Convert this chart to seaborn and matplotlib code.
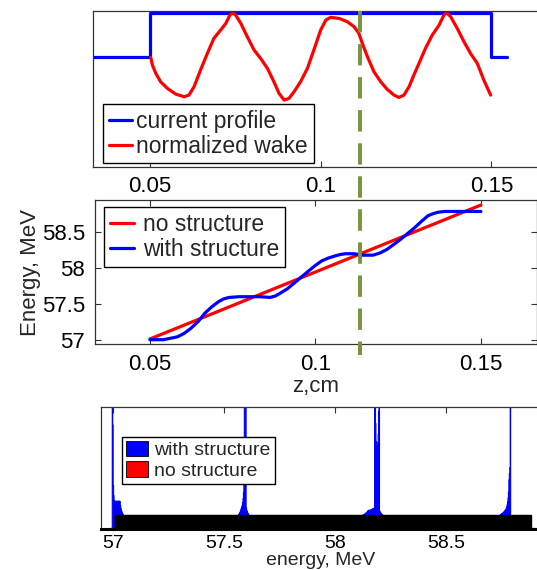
import numpy as np
import pandas as pd
import matplotlib
matplotlib.use("Agg")
import matplotlib.pyplot as plt
from matplotlib.lines import Line2D
from matplotlib.patches import Patch
import seaborn as sns

# ---- data -------------------------------------------------------------
# beam current profile (step) and normalized wake along z (cm)
current_z = [0.03, 0.05, 0.05, 0.15, 0.15, 0.1546]
current_val = [0, 0, 1, 1, 0, 0]

wake_z = [0.0502, 0.0507, 0.0517, 0.0531, 0.0551, 0.0575, 0.0600, 0.0614,
          0.0629, 0.0648, 0.0668, 0.0687, 0.0707, 0.0722, 0.0734, 0.0741,
          0.0751, 0.0766, 0.0785, 0.0805, 0.0824, 0.0844, 0.0863, 0.0878,
          0.0893, 0.0907, 0.0922, 0.0941, 0.0961, 0.0980, 0.1000, 0.1015,
          0.1029, 0.1054, 0.1078, 0.1098, 0.1112, 0.1122, 0.1137, 0.1156,
          0.1176, 0.1195, 0.1215, 0.1229, 0.1244, 0.1259, 0.1273, 0.1288,
          0.1307, 0.1327, 0.1347, 0.1361, 0.1369, 0.1381, 0.1400, 0.1420,
          0.1439, 0.1459, 0.1478, 0.1498]
wake_val = [0.000, -0.172, -0.359, -0.546, -0.695, -0.822, -0.882, -0.845,
            -0.658, -0.284, 0.090, 0.426, 0.613, 0.762, 0.949, 1.000,
            0.949, 0.762, 0.463, 0.164, -0.022, -0.247, -0.546, -0.807,
            -0.957, -0.919, -0.770, -0.546, -0.247, 0.164, 0.613, 0.837,
            0.897, 0.874, 0.800, 0.688, 0.538, 0.314, 0.015, -0.321,
            -0.546, -0.717, -0.845, -0.897, -0.845, -0.658, -0.396, -0.135,
            0.202, 0.501, 0.725, 0.949, 1.000, 0.912, 0.650, 0.351,
            0.090, -0.135, -0.508, -0.845]

# longitudinal phase space: energy (MeV) vs z (cm)
nostruct_z = [0.05, 0.15]
nostruct_E = [57.01, 58.88]

struct_z = [0.0500, 0.0516, 0.0541, 0.0562, 0.0583, 0.0604, 0.0624, 0.0645,
            0.0666, 0.0687, 0.0707, 0.0723, 0.0739, 0.0770, 0.0801, 0.0832,
            0.0863, 0.0879, 0.0894, 0.0915, 0.0936, 0.0956, 0.0977, 0.0998,
            0.1019, 0.1039, 0.1060, 0.1076, 0.1091, 0.1117, 0.1143, 0.1174,
            0.1195, 0.1216, 0.1237, 0.1257, 0.1278, 0.1299, 0.1320, 0.1340,
            0.1356, 0.1371, 0.1392, 0.1413, 0.1500]
struct_E = [57.00, 57.00, 57.00, 57.02, 57.04, 57.09, 57.16, 57.25,
            57.37, 57.46, 57.53, 57.57, 57.59, 57.60, 57.60, 57.60,
            57.59, 57.61, 57.65, 57.71, 57.79, 57.87, 57.95, 58.03,
            58.10, 58.14, 58.17, 58.19, 58.20, 58.20, 58.18, 58.18,
            58.21, 58.26, 58.33, 58.40, 58.48, 58.56, 58.65, 58.73,
            58.76, 58.78, 58.79, 58.79, 58.79]

# reference position marked across the upper two panels
z_mark = 0.1134

z_ticks = [0.05, 0.1, 0.15]
z_ticklabels = ["0.05", "0.1", "0.15"]
E_ticks = [57, 57.5, 58, 58.5]
E_ticklabels = ["57", "57.5", "58", "58.5"]

# macro-particles spread uniformly along the bunch, binned in energy
n_particles = 200000
bin_width = 0.002
smooth_dz = 0.0015   # smoothing length of the energy curve along z (cm)

# ---- style ------------------------------------------------------------
sns.set_theme(style="white")
plt.rcParams["font.family"] = ["Liberation Sans", "DejaVu Sans"]
plt.rcParams["axes.edgecolor"] = "#333333"
plt.rcParams["axes.linewidth"] = 0.9

W, H = 537, 570
fig = plt.figure(figsize=(W / 100, H / 100), dpi=100)

def box(x0, y0, x1, y1):
    return [x0 / W, 1 - y1 / H, (x1 - x0) / W, (y1 - y0) / H]

ax1 = fig.add_axes(box(92.7, 11, 549, 166.7))
ax2 = fig.add_axes(box(95, 200, 536.5, 344))
ax3 = fig.add_axes(box(100.7, 407.3, 540, 528.5))

# ---- top: current profile and wake ----------------------------------
sns.lineplot(x=current_z, y=current_val, ax=ax1, color="#0000ff", lw=2.3,
             sort=False, estimator=None, label="current profile")
sns.lineplot(x=wake_z, y=wake_val, ax=ax1, color="#ff0000", lw=2.3,
             sort=False, estimator=None, label="normalized wake")
ax1.set_xlim(0.0332, 0.1669)
ax1.set_ylim(-2.45, 1.04)
ax1.set_xticks(z_ticks)
ax1.set_xticklabels(z_ticklabels)
ax1.set_yticks([])
ax1.tick_params(axis="x", direction="in", length=4, width=0.8,
                labelsize=16, pad=7, bottom=True, top=False, colors="#333333",
                labelcolor="black")
ax1.set_xlabel("")
ax1.set_ylabel("")
leg1 = ax1.legend(loc="lower left", bbox_to_anchor=(0.023, 0.022),
                  borderaxespad=0, fontsize=16.5, handlelength=1.0,
                  handletextpad=0.2, borderpad=0.25, labelspacing=0.08,
                  fancybox=False, framealpha=1, edgecolor="black")
leg1.get_frame().set_linewidth(1.0)

# ---- middle: energy vs z ----------------------------------------------
sns.lineplot(x=nostruct_z, y=nostruct_E, ax=ax2, color="#ff0000", lw=2.3,
             sort=False, estimator=None, label="no structure")
sns.lineplot(x=struct_z, y=struct_E, ax=ax2, color="#0000ff", lw=2.3,
             sort=False, estimator=None, label="with structure")
ax2.set_xlim(0.0334, 0.1668)
ax2.set_ylim(56.94, 58.95)
ax2.set_xticks(z_ticks)
ax2.set_xticklabels(z_ticklabels)
ax2.set_yticks(E_ticks)
ax2.set_yticklabels(E_ticklabels)
ax2.tick_params(direction="in", length=4, width=0.8, labelsize=16, pad=7,
                bottom=True, top=True, left=True, right=True,
                colors="#333333", labelcolor="black")
ax2.set_xlabel("z,cm", fontsize=16, labelpad=1)
ax2.set_ylabel("Energy, MeV", fontsize=16, labelpad=1)
leg2 = ax2.legend(loc="upper left", bbox_to_anchor=(0.021, 0.949),
                  borderaxespad=0, fontsize=16.5, handlelength=1.05,
                  handletextpad=0.4, borderpad=0.25, labelspacing=0.08,
                  fancybox=False, framealpha=1, edgecolor="black")
leg2.get_frame().set_linewidth(1.0)

# ---- bottom: energy spectra -------------------------------------------
z_particles = np.linspace(nostruct_z[0], nostruct_z[-1], n_particles)
E_with = np.interp(z_particles, struct_z, struct_E)
k = int(smooth_dz / (z_particles[1] - z_particles[0]))
padded = np.pad(E_with, k // 2, mode="edge")
E_with = np.convolve(padded, np.ones(k) / k, mode="same")[k // 2: k // 2 + n_particles]
spectra = pd.DataFrame({
    "E_with": E_with,
    "E_no": np.interp(z_particles, nostruct_z, nostruct_E),
})
edges = np.arange(56.99, 58.90 + bin_width, bin_width)

sns.histplot(data=spectra, x="E_with", bins=edges, ax=ax3,
             element="step", fill=True, color="#0000ff", alpha=1,
             linewidth=0.8, edgecolor="#0000ff")
sns.histplot(data=spectra, x="E_no", bins=edges, ax=ax3,
             element="bars", color="#ff0000", edgecolor="black",
             linewidth=1.0, alpha=1)
flat = n_particles * bin_width / (nostruct_E[-1] - nostruct_E[0])
ax3.set_xlim(56.946, 58.922)
ax3.set_ylim(0, flat / 0.115)
ax3.set_xticks(E_ticks)
ax3.set_xticklabels(E_ticklabels)
ax3.set_yticks([])
ax3.tick_params(axis="x", direction="in", length=4, width=0.8,
                labelsize=14, pad=5, bottom=True, top=True,
                colors="#333333", labelcolor="black")
ax3.spines["bottom"].set_linewidth(2.2)
ax3.spines["bottom"].set_color("black")
ax3.set_xlabel("energy, MeV", fontsize=14, labelpad=0)
ax3.set_ylabel("")
handles = [Patch(facecolor="#0000ff", edgecolor="black", lw=0.6),
           Patch(facecolor="#ff0000", edgecolor="black", lw=0.6)]
leg3 = ax3.legend(handles, ["with structure", "no structure"],
                  loc="upper left", bbox_to_anchor=(0.049, 0.757),
                  borderaxespad=0, fontsize=14, handlelength=1.1,
                  handleheight=0.85, handletextpad=0.35, borderpad=0.2,
                  labelspacing=0.12, fancybox=False, framealpha=1,
                  edgecolor="black")
leg3.get_frame().set_linewidth(1.0)

# ---- dashed marker through the upper panels ----------------------------
x_disp = ax2.transData.transform((z_mark, 58.0))[0]
x_fig = fig.transFigure.inverted().transform((x_disp, 0))[0]
fig.add_artist(Line2D([x_fig, x_fig], [1 - 11 / H, 1 - 355 / H],
                      transform=fig.transFigure, color="#76923c", lw=2.8,
                      linestyle=(0, (5.5, 3)), zorder=10))

fig.savefig("out.png", dpi=100)
